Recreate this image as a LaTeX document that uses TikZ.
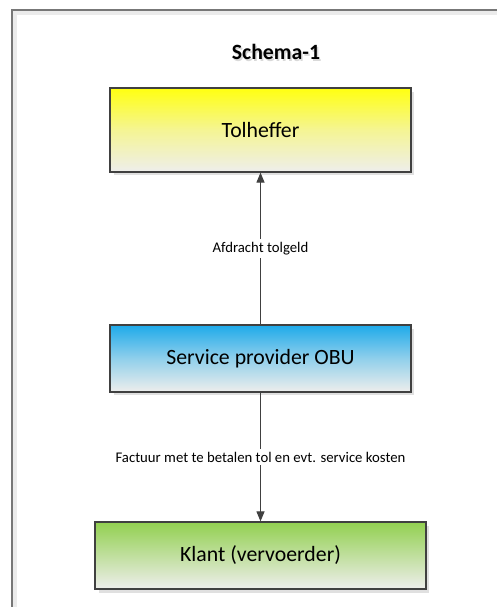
\documentclass[tikz,border=0pt]{standalone}
\usepackage{fontspec}
\setmainfont{Carlito}
\usepackage{tikz}
\usetikzlibrary{arrows.meta}
\usetikzlibrary{shadows}
\definecolor{framegray}{HTML}{777777}
\definecolor{linegray}{HTML}{404040}
\definecolor{boxgray}{HTML}{EEEEEC}
\definecolor{tolyellow}{HTML}{FFFF10}
\definecolor{obublue}{HTML}{1EAAEA}
\definecolor{klantgreen}{HTML}{92D050}
\tikzstyle{party}=[draw=linegray, line width=0.7pt, font=\fontsize{12.4}{14}\selectfont,
    drop shadow={shadow xshift=0.07cm, shadow yshift=-0.07cm, fill=black!12, opacity=1}]
\tikzstyle{flow}=[draw=linegray, line width=0.6pt, -{Triangle[length=0.2cm, width=0.16cm]}]
\tikzstyle{flow_label}=[fill=white, inner sep=1.5pt, font=\fontsize{8.4}{10}\selectfont]

\begin{document}
\begin{tikzpicture}[x=0.02cm, y=-0.02cm]
\useasboundingbox (0,0) rectangle (497,607);
\fill[white] (0,0) rectangle (497,607);
\draw[black!8, line width=2pt] (15,607) -- (15,13) -- (497,13);
\draw[framegray, line width=1.3pt] (12,607) -- (12,10) -- (497,10);
\node[font=\bfseries\fontsize{12.4}{14}\selectfont, text=black!15] at (277.5,53.5) {Schema-1};
\node[font=\bfseries\fontsize{12.4}{14}\selectfont] (title) at (276,52) {Schema-1};
\node[party, minimum width=6.02cm, minimum height=1.68cm,
    top color=tolyellow, bottom color=boxgray, middle color=tolyellow!40!boxgray] (tolheffer) at (260.5,130) {Tolheffer};
\node[party, minimum width=6.02cm, minimum height=1.34cm,
    top color=obublue, bottom color=boxgray, middle color=obublue!45!boxgray] (provider) at (260.5,358.5) {Service provider OBU};
\node[party, minimum width=6.62cm, minimum height=1.34cm,
    top color=klantgreen, bottom color=boxgray, middle color=klantgreen!50!boxgray] (klant) at (260.5,555.5) {Klant (vervoerder)};
\draw[flow] (provider) -- node[flow_label] {Afdracht tolgeld} (tolheffer);
\draw[flow] (provider) -- node[flow_label] {Factuur met te betalen tol en evt. service kosten} (klant);
\end{tikzpicture}
\end{document}
